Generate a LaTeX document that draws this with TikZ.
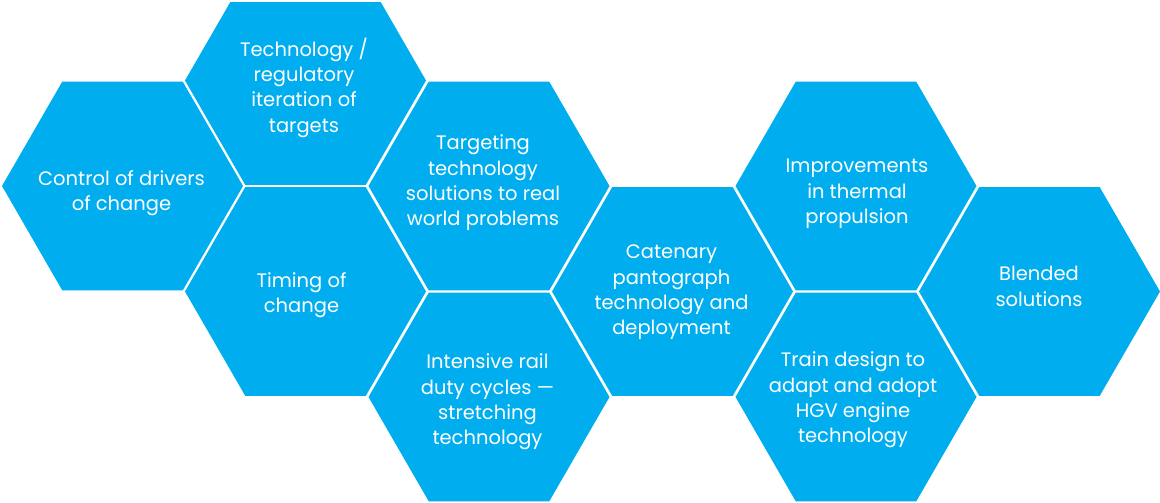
\documentclass[tikz,border=0pt]{standalone}
\usepackage{fontspec}
\setmainfont{Poppins}
\definecolor{hexblue}{HTML}{00AEEF}
\begin{document}
\begin{tikzpicture}[x=1pt,y=-1pt,
    hexcell/.style={fill=hexblue},
    hextext/.style={text=white,align=center,inner sep=0pt,
      font=\fontsize{19.5}{25.3}\selectfont}]
      \useasboundingbox (0,0) rectangle (1160,503);
      \clip (0,3) rectangle (1160,503);
      % cells of the honeycomb
      \foreach \x/\y in {122.5/186, 305.5/80.5, 305.5/291.5, 489/186, 489/397,
          672.5/291.5, 856/186, 856/397, 1039.5/291.5}
        \fill[hexcell] (\x,\y) +(0:120.5) -- +(60:120.5) -- +(120:120.5)
          -- +(180:120.5) -- +(240:120.5) -- +(300:120.5) -- cycle;
      \path
        (121.5,193) node[hextext] (control){Control of drivers\\of change}
        (304,87.5) node[hextext] (iteration){Technology /\\regulatory\\iteration of\\targets}
        (301.5,295.5) node[hextext] (timing){Timing of\\change}
        (483,183) node[hextext] (targeting){Targeting\\technology\\solutions to real\\world problems}
        (487.5,402) node[hextext] (intensive){Intensive rail\\duty cycles ---\\stretching\\technology}
        (671.5,292.5) node[hextext] (catenary){Catenary\\pantograph\\technology and\\deployment}
        (857,194) node[hextext] (thermal){Improvements\\in thermal\\propulsion}
        (853,400) node[hextext] (hgv){Train design to\\adapt and adopt\\HGV engine\\technology}
        (1039,286.5) node[hextext] (blended){Blended\\solutions};
    \end{tikzpicture}
\end{document}
